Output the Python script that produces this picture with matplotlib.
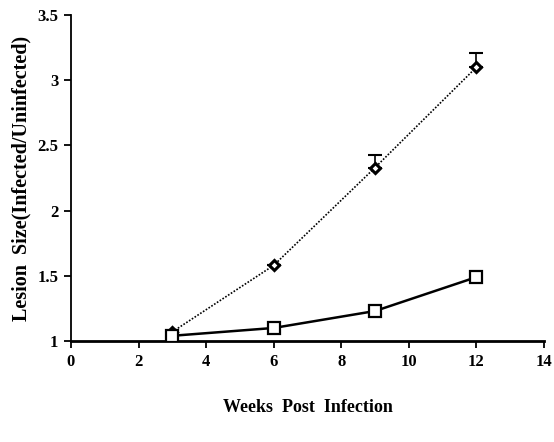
import numpy as np
import matplotlib.pyplot as plt

weeks = [3, 6, 9, 12]
infected_a = [1.07, 1.58, 2.33, 3.10]
infected_a_err = [0.0, 0.0, 0.10, 0.11]
infected_b = [1.04, 1.10, 1.23, 1.49]

plt.rcParams['font.family'] = ['Liberation Serif', 'DejaVu Serif']
plt.rcParams['font.weight'] = 'bold'

fig = plt.figure(figsize=(5.54, 4.42), dpi=100)
ax = fig.add_axes([0.128, 0.2285, 0.854, 0.7375])

# dotted series with upper error bars
ax.errorbar(weeks, infected_a, yerr=[np.zeros(4), infected_a_err], fmt='none',
            ecolor='black', elinewidth=1.2, capsize=5, capthick=1.5)
ax.plot(weeks, infected_a, linestyle=(0, (1, 1)), color='black', linewidth=1.2,
        marker='D', markersize=5, markerfacecolor='white',
        markeredgecolor='black', markeredgewidth=2.2, zorder=3)

# solid series
ax.plot(weeks, infected_b, linestyle='-', color='black', linewidth=1.8,
        marker='s', markersize=8, markerfacecolor='white',
        markeredgecolor='black', markeredgewidth=1.6, zorder=3)

ax.set_xlim(0, 14)
ax.set_ylim(1, 3.5)
ax.set_xticks(range(0, 15, 2))
ax.set_yticks([1, 1.5, 2, 2.5, 3, 3.5])
ax.set_yticklabels(['1', '1.5', '2', '2.5', '3', '3.5'])

for s in ['top', 'right']:
    ax.spines[s].set_visible(False)
ax.spines['bottom'].set_linewidth(2)
ax.spines['left'].set_linewidth(1.3)
ax.tick_params(axis='both', direction='out', length=5, width=1.3,
               labelsize=12, pad=4)

ax.set_xlabel('Weeks  Post  Infection', fontsize=13, fontweight='bold',
              labelpad=21)
ax.set_ylabel('Lesion  Size(Infected/Uninfected)', fontsize=14.5,
              fontweight='bold', labelpad=4)

fig.savefig('out.png', dpi=100)
